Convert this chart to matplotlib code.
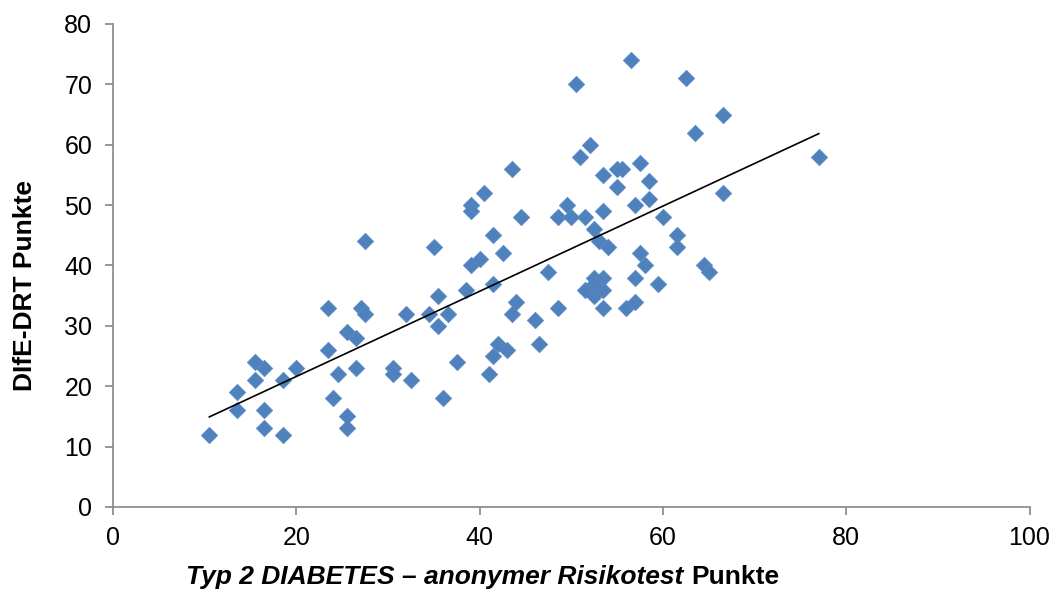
import matplotlib
matplotlib.use('Agg')
import matplotlib.pyplot as plt
import numpy as np
from matplotlib.offsetbox import TextArea, HPacker, AnnotationBbox

plt.rcParams['font.family'] = ['Liberation Sans', 'DejaVu Sans']

# Risikotest score (x) and DIfE-DRT score (y)
risk_points = [10.5, 13.5, 13.5, 15.5, 16.5, 15.5, 16.5, 16.5, 18.5, 18.5, 20,
               23.5, 23.5, 24, 24.5, 25.5, 26.5, 25.5, 25.5, 26.5, 27, 27.5,
               27.5, 30.5, 30.5, 32, 32.5,
               34.5, 36.5, 35.5, 35.5, 36, 37.5, 38.5, 41.5, 39, 40, 41, 41.5,
               42, 43, 43.5, 44, 46, 46.5, 48.5, 47.5,
               56.5, 50.5, 62.5, 66.5, 63.5, 77, 52, 51, 43.5, 53.5, 55, 55.5,
               57.5, 58.5, 55, 40.5, 39, 39, 58.5, 57, 49.5, 53.5, 48.5, 50,
               51.5, 44.5, 60, 52.5, 41.5, 61.5, 53, 54, 61.5, 35, 42.5, 57.5,
               58, 64.5, 65, 66.5, 57, 59.5,
               52.5, 53.5, 51.5, 52.5, 53.5, 52.5,
               53.5, 56, 57]
drt_points = [12, 19, 16, 24, 23, 21, 16, 13, 12, 21, 23,
              33, 26, 18, 22, 29, 28, 15, 13, 23, 33, 32,
              44, 23, 22, 32, 21,
              32, 32, 35, 30, 18, 24, 36, 37, 40, 41, 22, 25,
              27, 26, 32, 34, 31, 27, 33, 39,
              74, 70, 71, 65, 62, 58, 60, 58, 56, 55, 56, 56,
              57, 54, 53, 52, 50, 49, 51, 50, 50, 49, 48, 48,
              48, 48, 48, 46, 45, 45, 44, 43, 43, 43, 42, 42,
              40, 40, 39, 52, 38, 37,
              38, 38, 36, 35, 36, 37,
              33, 33, 34]

x_ticks = [0, 20, 40, 60, 80, 100]
y_ticks = [0, 10, 20, 30, 40, 50, 60, 70, 80]

fig = plt.figure(figsize=(10.57, 5.94), dpi=100)
ax = fig.add_axes([0.107, 0.1465, 0.867, 0.8131])

ax.scatter(risk_points, drt_points, marker='D', s=72, color='#4F81BD',
           edgecolors='#5B8BC6', linewidths=0.4, zorder=3)

# linear trend line over the data range
x = np.array(risk_points)
slope, icept = np.polyfit(x, np.array(drt_points), 1)
xs = np.array([x.min(), x.max()])
ax.plot(xs, slope * xs + icept, color='black', lw=1.2, zorder=4)

ax.set_xlim(0, 100)
ax.set_ylim(0, 80)
ax.set_xticks(x_ticks)
ax.set_yticks(y_ticks)

for side in ['top', 'right']:
    ax.spines[side].set_visible(False)
for side in ['left', 'bottom']:
    ax.spines[side].set_color('#868686')
    ax.spines[side].set_linewidth(1.2)
ax.tick_params(axis='both', direction='out', length=6, width=1.2,
               color='#868686', labelsize=18, labelcolor='black')
ax.tick_params(axis='x', pad=8)
ax.tick_params(axis='y', pad=9)

fig.text(0.024, 1 - 286 / 594, 'DIfE-DRT Punkte', rotation=90, fontsize=19,
         fontweight='bold', ha='center', va='center')

part1 = TextArea('Typ 2 DIABETES \u2013 anonymer Risikotest',
                 textprops=dict(fontsize=19, fontweight='bold', fontstyle='italic'))
part2 = TextArea('Punkte', textprops=dict(fontsize=19, fontweight='bold'))
label = HPacker(children=[part1, part2], align='baseline', pad=0, sep=6)
ab = AnnotationBbox(label, (483 / 1057, 1 - 577 / 594), xycoords='figure fraction',
                    box_alignment=(0.5, 0.5), frameon=False)
fig.add_artist(ab)

fig.savefig('out.png', dpi=100)
